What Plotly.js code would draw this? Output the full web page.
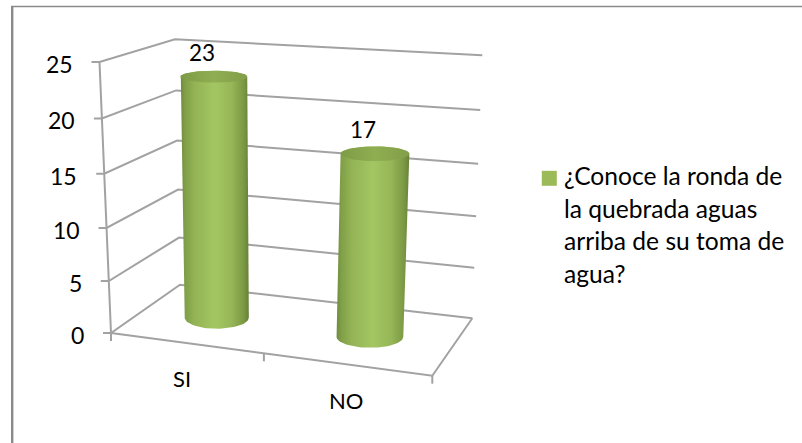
<!DOCTYPE html>
<html>
<head>
<meta charset="utf-8">
<script src="https://cdn.plot.ly/plotly-3.0.1.min.js"></script>
<style>html,body{margin:0;padding:0;background:#fff}#chart{width:802px;height:443px}</style>
</head>
<body>
<div id="chart"></div>
<script>
// Survey answers
const categories = ['SI', 'NO'];
const answers = [23, 17];
const seriesLines = ['¿Conoce la ronda de', 'la quebrada aguas', 'arriba de su toma de', 'agua?'];
const valueTicks = [0, 5, 10, 15, 20, 25];
const valueMax = 25;

// Corners of the 3D plot box on the drawing plane: [x at 0, y at 0, x at max, y at max]
const frontLeft = [111, 333, 99.5, 62];
const backLeft = [180, 284.7, 175, 39.3];
const backRight = [472.3, 318.3, 482.3, 55.3];
const frontRight = [432.3, 375.7, 449, 80];

const FONT = 'Lato, Carlito, sans-serif';
const GRID = '#a2a2a2';
const lerp = (a, b, t) => a + (b - a) * t;
// Foreshortening along an axis of the box
const persp = (t, k) => t * k / (1 + (k - 1) * t);

// Maps category position u, depth d (0 front, 1 back) and a value onto the plane
function project(u, d, value) {
  const fu = persp(u, 0.908);
  const fv = persp(value / valueMax, 0.95);
  const at = c => [lerp(c[0], c[2], fv), lerp(c[1], c[3], fv)];
  const fl = at(frontLeft), bl = at(backLeft), br = at(backRight), fr = at(frontRight);
  const left = [lerp(fl[0], bl[0], d), lerp(fl[1], bl[1], d)];
  const right = [lerp(fr[0], br[0], d), lerp(fr[1], br[1], d)];
  return [lerp(left[0], right[0], fu), lerp(left[1], right[1], fu)];
}

function polyline(points, opts) {
  const xs = [], ys = [];
  points.forEach(p => { if (p) { xs.push(p[0]); ys.push(p[1]); } else { xs.push(null); ys.push(null); } });
  return Object.assign({ x: xs, y: ys, mode: 'lines', type: 'scatter', hoverinfo: 'skip', showlegend: false }, opts);
}

const traces = [];

// Wall gridlines, walls' edges and the floor
const wall = [];
valueTicks.forEach(v => {
  const a = project(0, 0, v), b = project(0, 1, v), c = project(1, 1, v);
  wall.push([a[0] - 8, a[1]], a, b, c, null);
});
wall.push(project(0, 0, 0), project(0, 0, valueMax), null);
wall.push(project(0, 0, 0), project(1, 0, 0), project(1, 1, 0), null);
wall.push(project(0, 0, 0), [project(0, 0, 0)[0], project(0, 0, 0)[1] + 8], null);
categories.forEach((c, i) => {
  const p = project((i + 1) / categories.length, 0, 0);
  wall.push(p, [p[0], p[1] + 8], null);
});
traces.push(polyline(wall, { line: { color: GRID, width: 2 } }));

// Cylinders: radius widens towards the right and the top of the box
const radiusAt = (u, v) => 31.4 + 2.6 * u + 1.2 * v / 20;
const rimAt = v => 11 - 5 * v / 23;
function arc(c, rx, ry, from, to, n) {
  const pts = [];
  for (let i = 0; i <= n; i++) {
    const a = lerp(from, to, i / n);
    pts.push([c[0] + rx * Math.cos(a), c[1] + ry * Math.sin(a)]);
  }
  return pts;
}
const bodyGradient = [[0, '#6f8c3c'], [0.06, '#7f9e47'], [0.2, '#93b355'], [0.5, '#a4c662'], [0.75, '#96b657'], [0.93, '#7a9843'], [1, '#677f38']];
const capGradient = [[0, '#7e9c46'], [0.5, '#8fad51'], [1, '#829f49']];
answers.forEach((value, i) => {
  const u = (i + 0.5) / categories.length;
  const base = project(u, 0.5, 0);
  const top = project(u, 0.5, value);
  // Lower rim from right to left, then back over the upper rim
  const body = arc(base, radiusAt(u, 0), rimAt(0), 0, Math.PI, 40)
    .concat(arc(top, radiusAt(u, value), rimAt(value), Math.PI, 2 * Math.PI, 40));
  body.push(body[0]);
  traces.push(polyline(body, {
    fill: 'toself', line: { width: 0 }, fillgradient: { type: 'horizontal', colorscale: bodyGradient }
  }));
  traces.push(polyline(arc(top, radiusAt(u, value), rimAt(value), 0, 2 * Math.PI, 60), {
    fill: 'toself', line: { width: 0 }, fillgradient: { type: 'horizontal', colorscale: capGradient }
  }));
});

// Legend swatch
traces.push({
  x: [549.3], y: [178.3], mode: 'markers', type: 'scatter', hoverinfo: 'skip', showlegend: false,
  marker: { symbol: 'square', size: 15, color: '#9bbb59', line: { width: 0 } }
});

const text = (x, y, t, size, anchor) => ({
  x, y, text: t, xref: 'x', yref: 'y', showarrow: false, xanchor: anchor, yanchor: 'middle',
  font: { family: FONT, size, color: '#000' }
});
const notes = [];
valueTicks.forEach(v => {
  const p = project(0, 0, v);
  notes.push(text(p[0] - 25, p[1] + 2, String(v), 23, 'right'));
});
categories.forEach((c, i) => {
  const p = project((i + 0.5) / categories.length, 0, 0);
  notes.push(text(p[0] - 4 + 4 * i, p[1] + 36, c, 22, 'center'));
});
answers.forEach((v, i) => {
  const p = project((i + 0.5) / categories.length, 0.5, v);
  notes.push(text(p[0] - 12, p[1] - 24, String(v), 22.5, 'center'));
});
seriesLines.forEach((line, i) => notes.push(text(562, 175.5 + i * 32.7, line, 24.6, 'left')));

const layout = {
  width: 802, height: 443,
  margin: { l: 0, r: 0, t: 0, b: 0 },
  paper_bgcolor: '#fff', plot_bgcolor: '#fff',
  showlegend: false,
  xaxis: { range: [0, 802], visible: false, fixedrange: true },
  yaxis: { range: [443, 0], visible: false, fixedrange: true },
  annotations: notes,
  shapes: [
    { type: 'line', xref: 'paper', yref: 'paper', x0: 12.2 / 802, x1: 12.2 / 802, y0: 0, y1: 1 - 6 / 443, line: { color: '#8a8a8a', width: 2.4 } },
    { type: 'line', xref: 'paper', yref: 'paper', x0: 11 / 802, x1: 1, y0: 1 - 6.5 / 443, y1: 1 - 6.5 / 443, line: { color: '#8a8a8a', width: 1.5 } }
  ]
};

Plotly.newPlot('chart', traces, layout, { staticPlot: true, displayModeBar: false });
</script>
</body>
</html>
